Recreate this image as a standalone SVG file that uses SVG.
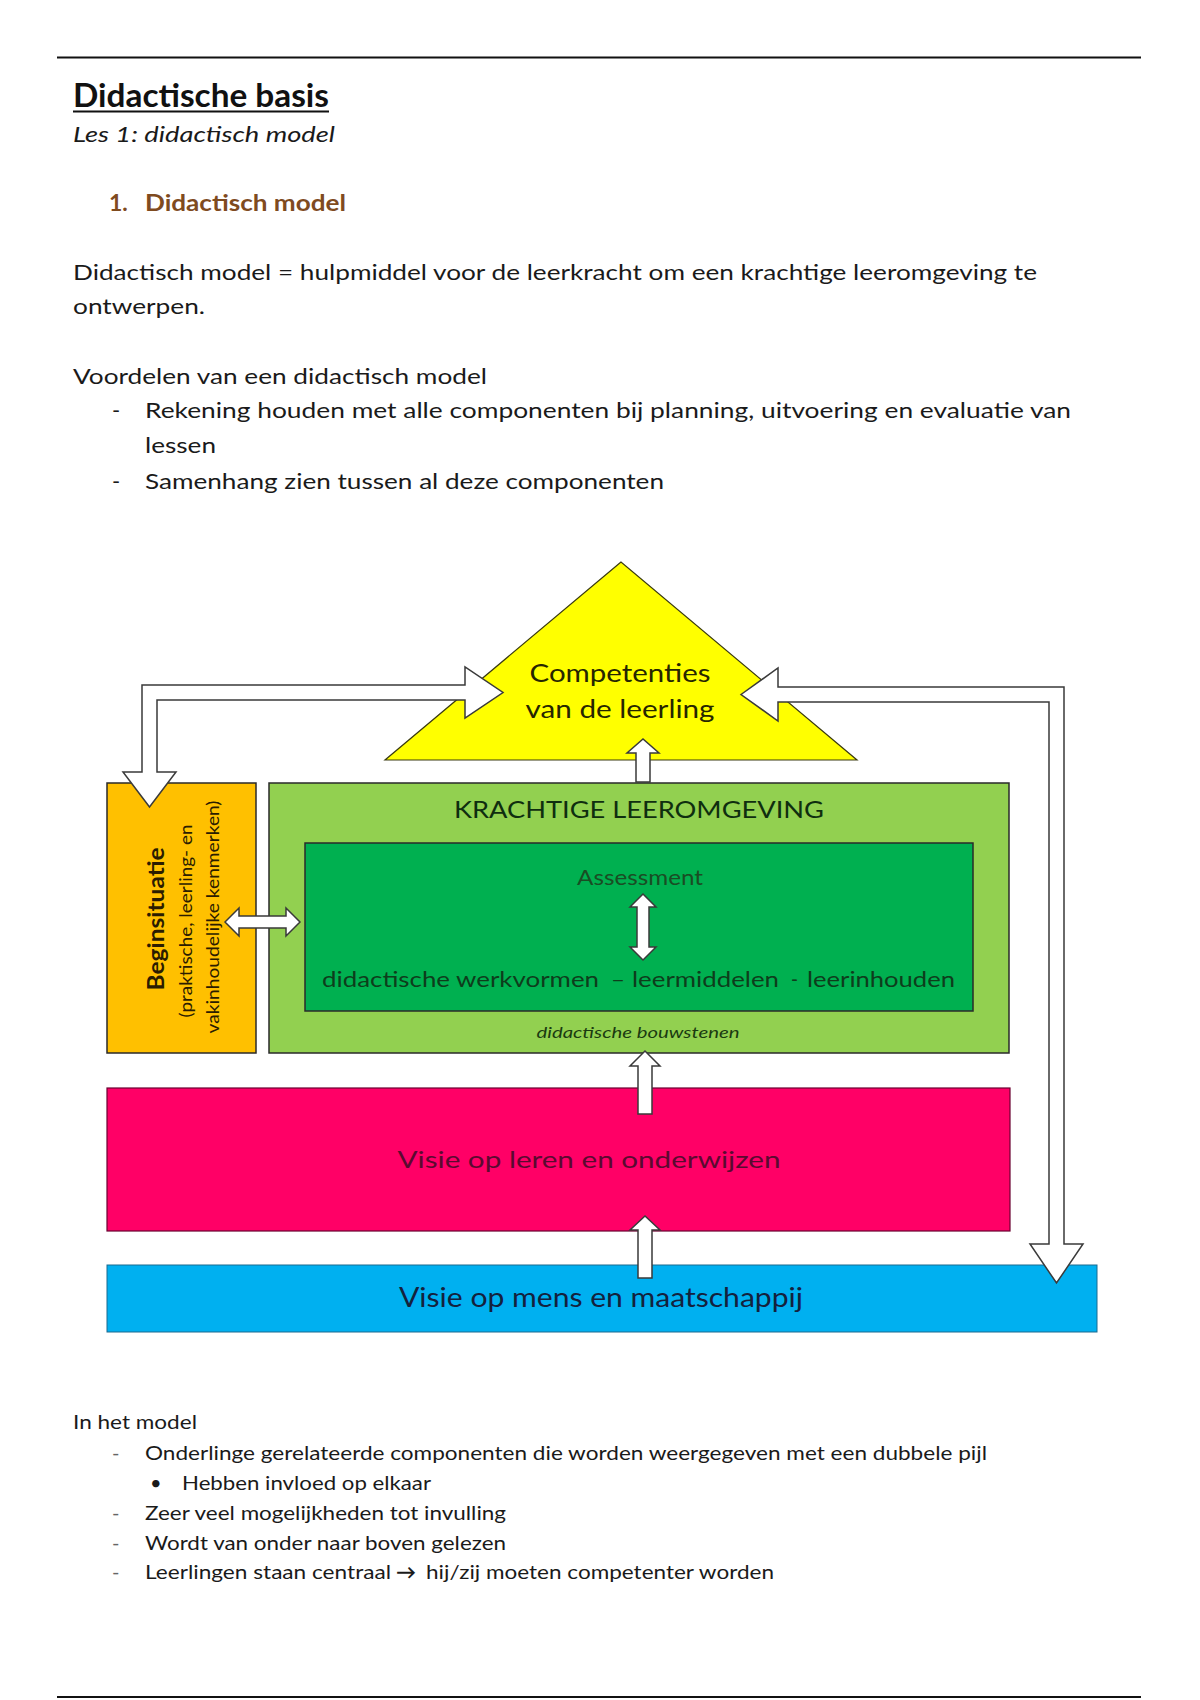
<svg xmlns="http://www.w3.org/2000/svg" width="1200" height="1700" viewBox="0 0 1200 1700">
<style>
  text { font-family: Lato, "Liberation Sans", sans-serif; }
  .body { font-size: 22px; fill: #1a1a1a; }
  .small { font-size: 20px; fill: #1a1a1a; }
  .dash { font-size: 20px; fill: #666; }
  .node { stroke: #2a2a2a; stroke-width: 1.5; }
  .arrow { fill: #ffffff; stroke: #3a3a3a; stroke-width: 1.5; stroke-linejoin: miter; }
  .mid { text-anchor: middle; }
  .bouw { font-size: 22px; fill: #0e3d1c; }
</style>
<rect x="0" y="0" width="1200" height="1700" fill="#ffffff"/>

<!-- page header/footer rules -->
<line x1="57" y1="57.5" x2="1141" y2="57.5" stroke="#111" stroke-width="2"/>
<line x1="57" y1="1697" x2="1141" y2="1697" stroke="#111" stroke-width="2"/>

<!-- document text -->
<g id="heading">
  <text x="73" y="107" font-size="32" font-weight="bold" fill="#111" textLength="256" lengthAdjust="spacingAndGlyphs">Didactische basis</text>
  <line x1="73" y1="111.5" x2="329" y2="111.5" stroke="#111" stroke-width="2"/>
  <text x="73" y="142" font-size="22" font-style="italic" fill="#1a1a1a" textLength="262" lengthAdjust="spacingAndGlyphs">Les 1: didactisch model</text>
  <text x="109" y="211" font-size="23" font-weight="bold" fill="#7f4b1f">1.</text>
  <text x="145" y="211" font-size="23" font-weight="bold" fill="#7f4b1f" textLength="201" lengthAdjust="spacingAndGlyphs">Didactisch model</text>
</g>

<g id="intro">
  <text class="body" x="73" y="280" textLength="964" lengthAdjust="spacingAndGlyphs">Didactisch model = hulpmiddel voor de leerkracht om een krachtige leeromgeving te</text>
  <text class="body" x="73" y="314" textLength="132" lengthAdjust="spacingAndGlyphs">ontwerpen.</text>
  <text class="body" x="73" y="384" textLength="414" lengthAdjust="spacingAndGlyphs">Voordelen van een didactisch model</text>
  <text class="body" x="112" y="418">-</text>
  <text class="body" x="145" y="418" textLength="926" lengthAdjust="spacingAndGlyphs">Rekening houden met alle componenten bij planning, uitvoering en evaluatie van</text>
  <text class="body" x="145" y="453" textLength="71" lengthAdjust="spacingAndGlyphs">lessen</text>
  <text class="body" x="112" y="489">-</text>
  <text class="body" x="145" y="489" textLength="519" lengthAdjust="spacingAndGlyphs">Samenhang zien tussen al deze componenten</text>
</g>

<!-- diagram nodes -->
<g id="node-competenties">
  <polygon points="621,562 385,760 857,760" fill="#FFFF00" stroke="#3a3a10" stroke-width="1.2"/>
  <text class="mid" x="620" y="682" font-size="25" fill="#262600" textLength="181" lengthAdjust="spacingAndGlyphs">Competenties</text>
  <text class="mid" x="620" y="718" font-size="25" fill="#262600" textLength="189" lengthAdjust="spacingAndGlyphs">van de leerling</text>
</g>

<g id="node-beginsituatie">
  <rect class="node" x="107" y="783" width="149" height="270" fill="#FFC000"/>
  <text class="mid" transform="translate(164,919) rotate(-90)" font-size="23" font-weight="bold" fill="#2b1c00" textLength="143" lengthAdjust="spacingAndGlyphs">Beginsituatie</text>
  <text class="mid" transform="translate(192,921) rotate(-90)" font-size="17" fill="#2b1c00" textLength="193" lengthAdjust="spacingAndGlyphs">(praktische, leerling- en</text>
  <text class="mid" transform="translate(219,917) rotate(-90)" font-size="17" fill="#2b1c00" textLength="233" lengthAdjust="spacingAndGlyphs">vakinhoudelijke kenmerken)</text>
</g>

<g id="node-krachtige-leeromgeving">
  <rect class="node" x="269" y="783" width="740" height="270" fill="#92D050"/>
  <text class="mid" x="639" y="818" font-size="24" fill="#0f2e0f" textLength="370" lengthAdjust="spacingAndGlyphs">KRACHTIGE LEEROMGEVING</text>
  <text class="mid" x="638" y="1038" font-size="16" font-style="italic" fill="#1a3a10" textLength="203" lengthAdjust="spacingAndGlyphs">didactische bouwstenen</text>
</g>

<g id="node-bouwstenen">
  <rect class="node" x="305" y="843" width="668" height="168" fill="#00B050"/>
  <text class="mid" x="640" y="885" font-size="21" fill="#1a4d24" textLength="126" lengthAdjust="spacingAndGlyphs">Assessment</text>
  <text class="bouw" x="322" y="987" textLength="277" lengthAdjust="spacingAndGlyphs">didactische werkvormen</text>
  <text class="bouw" x="611" y="987" textLength="14" lengthAdjust="spacingAndGlyphs">–</text>
  <text class="bouw" x="632" y="987" textLength="147" lengthAdjust="spacingAndGlyphs">leermiddelen</text>
  <text class="bouw" x="791" y="987" textLength="7" lengthAdjust="spacingAndGlyphs">-</text>
  <text class="bouw" x="807" y="987" textLength="148" lengthAdjust="spacingAndGlyphs">leerinhouden</text>
</g>

<g id="node-visie-leren">
  <rect x="107" y="1088" width="903" height="143" fill="#FF0066" stroke="#6a0030" stroke-width="1.2"/>
  <text class="mid" x="589" y="1168" font-size="24" fill="#5a0a30" textLength="383" lengthAdjust="spacingAndGlyphs">Visie op leren en onderwijzen</text>
</g>

<g id="node-visie-mens">
  <rect x="107" y="1265" width="990" height="67" fill="#00B0F0" stroke="#1a6a90" stroke-width="1"/>
  <text class="mid" x="601" y="1307" font-size="26" fill="#14213d" textLength="404" lengthAdjust="spacingAndGlyphs">Visie op mens en maatschappij</text>
</g>

<!-- connectors -->
<g id="connectors">
  <!-- feedback: beginsituatie <-> competenties -->
  <polygon class="arrow" points="149.5,807 176,772 157,772 157,700 465,700 465,718 503,692.5 465,667 465,685 142,685 142,772 123,772"/>
  <!-- feedback: competenties <-> visie op mens -->
  <polygon class="arrow" points="741,694.5 778,668 778,687 1064,687 1064,1244 1083,1244 1056.5,1283 1030,1244 1049,1244 1049,702 778,702 778,721"/>
  <!-- leeromgeving -> competenties -->
  <polygon class="arrow" points="636,782 636,753 627,753 643,739 659,753 650,753 650,782"/>
  <!-- visie leren -> leeromgeving -->
  <polygon class="arrow" points="638,1114 638,1066 630,1066 645,1051 660,1066 652,1066 652,1114"/>
  <!-- visie mens -> visie leren -->
  <polygon class="arrow" points="638,1278 638,1230 630,1230 645,1216 660,1230 652,1230 652,1278"/>
  <!-- beginsituatie <-> leeromgeving -->
  <polygon class="arrow" points="225,922 239,908 239,916 286,916 286,908 300,922 286,936 286,928 239,928 239,936"/>
  <!-- assessment <-> bouwstenen -->
  <polygon class="arrow" points="643,894 656,907 649,907 649,947 656,947 643,960 630,947 637,947 637,907 630,907"/>
</g>

<!-- closing list -->
<g id="model-notes">
  <text class="small" x="73" y="1429" textLength="124" lengthAdjust="spacingAndGlyphs">In het model</text>
  <text class="dash" x="112" y="1460">-</text>
  <text class="small" x="145" y="1460" textLength="842" lengthAdjust="spacingAndGlyphs">Onderlinge gerelateerde componenten die worden weergegeven met een dubbele pijl</text>
  <text class="small" x="150" y="1490">•</text>
  <text class="small" x="182" y="1490" textLength="249" lengthAdjust="spacingAndGlyphs">Hebben invloed op elkaar</text>
  <text class="dash" x="112" y="1520">-</text>
  <text class="small" x="145" y="1520" textLength="361" lengthAdjust="spacingAndGlyphs">Zeer veel mogelijkheden tot invulling</text>
  <text class="dash" x="112" y="1550">-</text>
  <text class="small" x="145" y="1550" textLength="361" lengthAdjust="spacingAndGlyphs">Wordt van onder naar boven gelezen</text>
  <text class="dash" x="112" y="1579">-</text>
  <text class="small" x="145" y="1579" textLength="246" lengthAdjust="spacingAndGlyphs">Leerlingen staan centraal</text>
  <text class="small" x="396" y="1579" font-weight="bold">→</text>
  <text class="small" x="426" y="1579" textLength="348" lengthAdjust="spacingAndGlyphs">hij/zij moeten competenter worden</text>
</g>
</svg>
